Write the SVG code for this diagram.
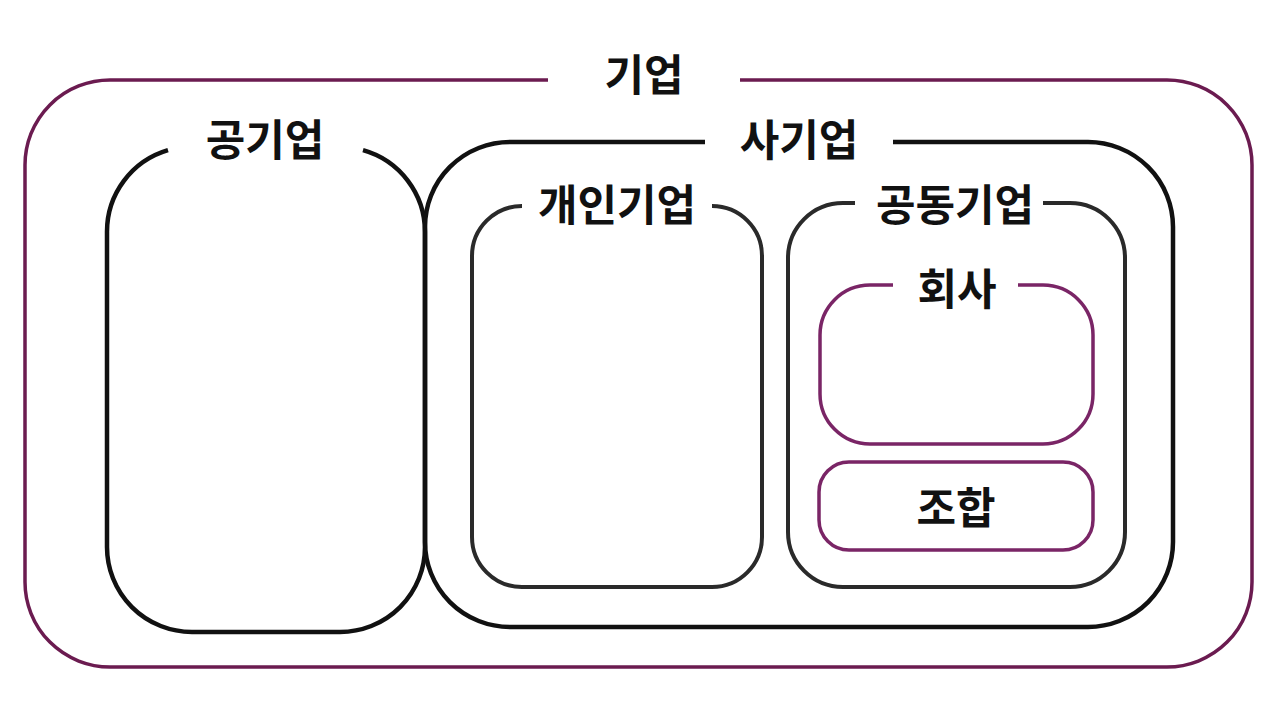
<svg xmlns="http://www.w3.org/2000/svg" width="1280" height="718" viewBox="0 0 1280 718">
<style>
.box{fill:none;stroke-linecap:butt;stroke-linejoin:round}
.purple{stroke:#6b1b50;stroke-width:3.5}
.black{stroke:#111;stroke-width:4.5}
.gray{stroke:#2a2a2a;stroke-width:4}
.ppl{stroke:#7a2566;stroke-width:3.5}
.lbl{font-family:"Noto Sans CJK KR","Noto Sans",sans-serif;font-weight:bold;font-size:43px;fill:#111;text-anchor:middle;dominant-baseline:central}
</style>
<rect width="1280" height="718" fill="#fff"/>
<g id="node-giup">
<path class="box purple" d="M740 80 H1167 A85 85 0 0 1 1252 165 V582 A85 85 0 0 1 1167 667 H110 A85 85 0 0 1 25 582 V165 A85 85 0 0 1 110 80 H548"/>
<text class="lbl" x="644" y="72">기업</text>
</g>
<g id="node-gonggiup">
<path class="box black" d="M363 150.2 A85 85 0 0 1 425 232 V547 A85 85 0 0 1 340 632 H192 A85 85 0 0 1 107 547 V232 A85 85 0 0 1 168 150.2"/>
<text class="lbl" x="265" y="137">공기업</text>
</g>
<g id="node-sagiup">
<path class="box black" d="M893 142 H1088 A85 85 0 0 1 1173 227 V542 A85 85 0 0 1 1088 627 H510 A85 85 0 0 1 425 542 V227 A85 85 0 0 1 510 142 H705"/>
<text class="lbl" x="799" y="137">사기업</text>
</g>
<g id="node-gaein">
<path class="box gray" d="M712 206 A50 50 0 0 1 762 256 V537 A50 50 0 0 1 712 587 H522 A50 50 0 0 1 472 537 V256 A50 50 0 0 1 522 206"/>
<text class="lbl" x="617" y="202">개인기업</text>
</g>
<g id="node-gongdong">
<path class="box gray" d="M1043 203 H1070 A55 55 0 0 1 1125 258 V532 A55 55 0 0 1 1070 587 H843 A55 55 0 0 1 788 532 V258 A55 55 0 0 1 843 203 H855"/>
<text class="lbl" x="955" y="202">공동기업</text>
</g>
<g id="node-hoesa">
<path class="box ppl" d="M1018 285 H1043 A50 50 0 0 1 1093 335 V394 A50 50 0 0 1 1043 444 H870 A50 50 0 0 1 820 394 V335 A50 50 0 0 1 870 285 H893"/>
<text class="lbl" x="957" y="286">회사</text>
</g>
<g id="node-johap">
<rect class="box ppl" x="819" y="462" width="274" height="88" rx="30" ry="30"/>
<text class="lbl" x="956" y="505">조합</text>
</g>
<g id="connectors"></g>
</svg>
